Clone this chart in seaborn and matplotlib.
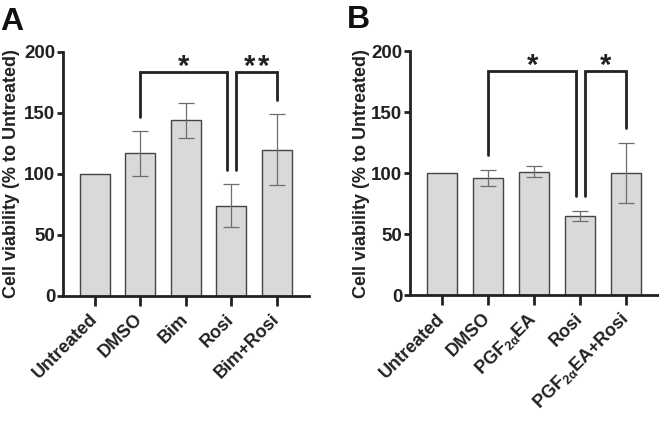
import numpy as np
import matplotlib
matplotlib.use("Agg")
import matplotlib.pyplot as plt
import seaborn as sns

# panel A data
labels_a = ["Untreated", "DMSO", "Bim", "Rosi", "Bim+Rosi"]
means_a = [100, 117, 144, 74, 120]
sd_a = [0, 18.5, 14.5, 17.5, 29]

# panel B data
labels_b = ["Untreated", "DMSO", r"PGF$_{2\alpha}$EA", "Rosi", r"PGF$_{2\alpha}$EA+Rosi"]
means_b = [100, 96, 101, 65, 100]
sd_b = [0, 6.7, 4.5, 4, 24.5]

# significance brackets: (left idx, right idx, left height, right height, top, n stars)
sig_a = [(1, 3, 147, 103, 184, 1), (3, 4, 103, 161, 184, 2)]
sig_b = [(1, 3, 115, 81, 184, 1), (3, 4, 81, 137, 184, 1)]

sns.set_style("ticks")
plt.rcParams["font.family"] = ["Liberation Sans", "DejaVu Sans"]
plt.rcParams["font.weight"] = "bold"
plt.rcParams["mathtext.fontset"] = "custom"
plt.rcParams["mathtext.rm"] = "Liberation Sans:bold"
plt.rcParams["mathtext.it"] = "Liberation Sans:bold"
plt.rcParams["mathtext.bf"] = "Liberation Sans:bold"

fig = plt.figure(figsize=(6.59, 4.21), dpi=100)
ax_a = fig.add_axes([0.0956, 0.297, 0.373, 0.5795])
ax_b = fig.add_axes([0.622, 0.299, 0.377, 0.5795])


def draw_panel(ax, labels, means, sds, sigs, label_x):
    x = np.arange(len(labels))
    sns.barplot(x=x, y=means, ax=ax, color="#d9d9d9", edgecolor="#444444",
                linewidth=1.0, width=0.66, saturation=1)
    # error bars (no bar for the normalised control)
    idx = [i for i, s in enumerate(sds) if s > 0]
    ax.errorbar(x[idx], np.array(means)[idx], yerr=np.array(sds)[idx], fmt="none",
                ecolor="#6e6e6e", elinewidth=0.9, capsize=5.5, capthick=0.9)
    for l, r, hl, hr, top, n in sigs:
        xl = l + (0.1 if l == 3 else 0)
        xr = r - (0.09 if r == 3 else 0)
        ax.plot([xl, xl, xr, xr], [hl, top, top, hr], color="#222222", lw=2.0,
                solid_joinstyle="miter", clip_on=False)
        mid = (xl + xr) / 2
        offs = [0] if n == 1 else [-0.16, 0.16]
        for o in offs:
            ax.text(mid + o, top - 3, "*", ha="center", va="baseline",
                    fontsize=21, fontweight="bold", color="#222222")
    ax.set_ylim(0, 200)
    ax.set_xlim(-0.7, len(labels) - 0.3)
    ax.set_yticks([0, 50, 100, 150, 200])
    ax.set_xticks(x)
    ax.set_xticklabels(labels, rotation=45, ha="right", va="center",
                       rotation_mode="anchor", fontsize=13, fontweight="bold",
                       color="#222222")
    ax.tick_params(axis="y", labelsize=13.5, width=2, length=4.5, colors="#222222", pad=1)
    ax.tick_params(axis="x", width=2, length=7, colors="#222222", pad=8)
    for lab in ax.get_yticklabels():
        lab.set_fontweight("bold")
    ax.set_ylabel("Cell viability (% to Untreated)", fontsize=13, fontweight="bold",
                  color="#222222")
    ax.yaxis.set_label_coords(label_x, 0.5)
    sns.despine(ax=ax)
    for s in ["left", "bottom"]:
        ax.spines[s].set_linewidth(2.0)
        ax.spines[s].set_color("#222222")


draw_panel(ax_a, labels_a, means_a, sd_a, sig_a, -0.175)
draw_panel(ax_b, labels_b, means_b, sd_b, sig_b, -0.16)

fig.text(0.0, 0.929, "A", fontsize=23, fontweight="bold", color="#111111",
         ha="left", va="baseline")
fig.text(0.527, 0.934, "B", fontsize=23, fontweight="bold", color="#111111",
         ha="left", va="baseline")

fig.savefig("out.png", dpi=100)
